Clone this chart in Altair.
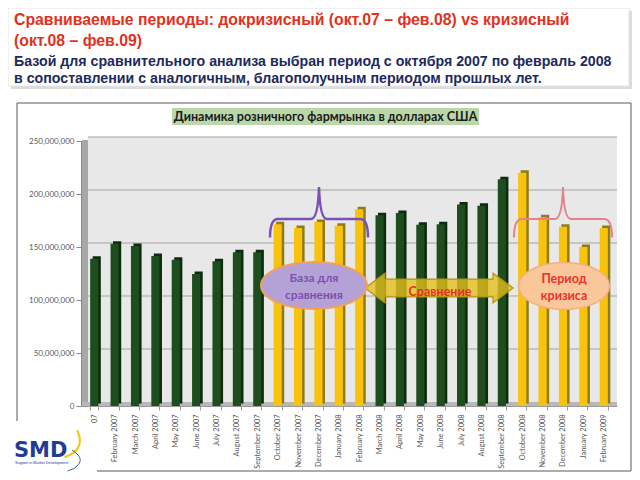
import altair as alt
import pandas as pd

# ---------------- data ----------------
months = ["January 2007", "February 2007", "March 2007", "April 2007", "May 2007",
          "June 2007", "July 2007", "August 2007", "September 2007", "October 2007",
          "November 2007", "December 2007", "January 2008", "February 2008", "March 2008",
          "April 2008", "May 2008", "June 2008", "July 2008", "August 2008",
          "September 2008", "October 2008", "November 2008", "December 2008",
          "January 2009", "February 2009"]
sales = [139e6, 153e6, 151e6, 141.5e6, 138e6, 124.5e6, 136.5e6, 145e6, 145e6,
         171.5e6, 168e6, 173.5e6, 170e6, 185.5e6,
         180e6, 182e6, 171e6, 171.5e6, 190e6, 189e6, 214e6,
         220e6, 178e6, 169e6, 150e6, 168e6]
periods = ["other", "other", "other", "other", "other", "other", "other", "other", "other",
           "base", "base", "base", "base", "base",
           "other", "other", "other", "other", "other", "other", "other",
           "crisis", "crisis", "crisis", "crisis", "crisis"]
y_ticks = [0, 50e6, 100e6, 150e6, 200e6, 250e6]
grid_vals = [50e6, 100e6, 150e6, 200e6, 250e6]

header_red = ["Сравниваемые периоды: докризисный (окт.07 – фев.08) vs кризисный",
              "(окт.08 – фев.09)"]
header_navy = ["Базой для сравнительного анализа выбран период с октября 2007 по февраль 2008",
               "в сопоставлении с аналогичным, благополучным периодом прошлых лет."]
chart_title = "Динамика розничного фармрынка в долларах США"

df = pd.DataFrame({"month": months, "sales": sales, "period": periods})
one = pd.DataFrame({"k": [0]})
grid_df = pd.DataFrame({"sales": grid_vals})

W, H = 536, 265
OX, OY = 81, 141          # page position of plot origin


def px(x):
    return x - OX


def py(y):
    return y - OY


GREEN, GREEN_SIDE = "#1e4d1e", "#0d2b0d"
YELLOW, YELLOW_SIDE = "#f9c20c", "#8f7c18"
LABEL = "#595959"
FONT = "Lato"

X = alt.X("month:N", sort=months,
          scale=alt.Scale(paddingInner=0.6, paddingOuter=0.45),
          axis=alt.Axis(title=None, labelAngle=-90, labelFontSize=7.4, labelFont=FONT,
                        labelColor=LABEL, labelPadding=4, tickBand="extent",
                        tickSize=4, tickColor="#9a9a9a", domainColor="#9a9a9a",
                        labelExpr="datum.label == 'January 2007' ? '07' : datum.label"))
Y = alt.Y("sales:Q", scale=alt.Scale(domain=[0, 250e6], nice=False),
          axis=alt.Axis(title=None, values=y_ticks, grid=False,
                        labelExpr="format(datum.value, ',.0f')",
                        labelFontSize=8, labelFont=FONT, labelColor=LABEL,
                        tickSize=5, tickColor="#8a8a8a", domainColor="#8a8a8a",
                        labelPadding=2))

layers = []


def rect(x1, y1, x2, y2, **kw):
    return alt.Chart(one).mark_rect(**kw).encode(
        x=alt.value(px(x1)), x2=alt.value(px(x2)), y=alt.value(py(y1)), y2=alt.value(py(y2)))


def text(x, y, t, **kw):
    return alt.Chart(one).mark_text(text=t, **kw).encode(x=alt.value(px(x)), y=alt.value(py(y)))


def shape(x, y, path, size, **kw):
    return alt.Chart(one).mark_point(shape=path, size=size, opacity=1, **kw).encode(
        x=alt.value(px(x)), y=alt.value(py(y)))


def rule(x1, y1, x2, y2, **kw):
    return alt.Chart(one).mark_rule(**kw).encode(
        x=alt.value(px(x1)), x2=alt.value(px(x2)), y=alt.value(py(y1)), y2=alt.value(py(y2)))


# chart walls
layers.append(rect(88, 137, 617, 402, color="#e8e8e8"))
layers.append(rect(82, 140, 88, 406, color="#a8a8a8"))
layers.append(rect(82, 402, 617, 406, color="#b8b8b8"))
layers.append(alt.Chart(grid_df).mark_rule(color="#a3a3a3", strokeWidth=1, yOffset=-4).encode(
    y=Y, x=alt.value(7), x2=alt.value(W)))

# bars (3D: darker side/top + front face)
is_other = "datum.period == 'other'"
layers.append(alt.Chart(df).mark_bar(xOffset=2.5, yOffset=-2.5).encode(
    x=X, y=Y, color=alt.condition(is_other, alt.value(GREEN_SIDE), alt.value(YELLOW_SIDE))))
layers.append(alt.Chart(df).mark_bar().encode(
    x=X, y=Y, color=alt.condition(is_other, alt.value(GREEN), alt.value(YELLOW))))

# braces
brace = ("M -0.98 0.5 Q -0.98 0.13 -0.82 0.13 L -0.16 0.13 Q -0.02 0.13 0 -0.51 "
         "Q 0.02 0.13 0.16 0.13 L 0.82 0.13 Q 0.98 0.13 0.98 0.5")
layers.append(shape(319, 212.5, brace, 10000, filled=False, stroke="#7d50b8", strokeWidth=2.5))
layers.append(shape(563, 212.5, brace, 10000, filled=False, stroke="#e6808a", strokeWidth=2))

# double arrow
arrow = ("M -1 0 L -0.73 -0.2 L -0.73 -0.12 L 0.73 -0.12 L 0.73 -0.2 L 1 0 "
         "L 0.73 0.2 L 0.73 0.12 L -0.73 0.12 L -0.73 0.2 Z")
layers.append(shape(439, 288, arrow, 148 * 148, filled=True, fill="#e3bf1c", fillOpacity=0.8,
                    stroke="#b39412", strokeWidth=1.2))
layers.append(text(440, 292, "Сравнение", font=FONT, fontSize=12.5, fontWeight="bold",
                   color="#e8302a", baseline="middle"))


def ellipse(k):
    c = 0.5523 * k
    return (f"M -1 0 C -1 {-c} -0.5523 {-k} 0 {-k} C 0.5523 {-k} 1 {-c} 1 0 "
            f"C 1 {c} 0.5523 {k} 0 {k} C -0.5523 {k} -1 {c} -1 0 Z")


layers.append(shape(314, 285.5, ellipse(0.443), 106 * 106, filled=True, fill="#b4a2d6",
                    stroke="#f2a15a", strokeWidth=2))
layers.append(text(314, 278, "База для", font=FONT, fontSize=12, fontWeight="bold",
                   color="#7f4fb0", baseline="middle"))
layers.append(text(314, 295, "сравнения", font=FONT, fontSize=12, fontWeight="bold",
                   color="#7f4fb0", baseline="middle"))
layers.append(shape(564, 286, ellipse(0.516), 91 * 91, filled=True, fill="#f9c79a",
                    stroke="#f3b07e", strokeWidth=1.5))
layers.append(text(564, 279, "Период", font=FONT, fontSize=12.5, fontWeight="bold",
                   color="#e8342a", baseline="middle"))
layers.append(text(564, 296, "кризиса", font=FONT, fontSize=12.5, fontWeight="bold",
                   color="#e8342a", baseline="middle"))

# chart title box
layers.append(rect(172, 108, 479, 125, color="#b9d7a9"))
layers.append(text(325.5, 116.5, chart_title, font=FONT, fontSize=12.5, fontWeight="bold",
                   color="#1a1a1a", baseline="middle"))

# outer chart border
BC = "#8f8f8f"
layers.append(rule(17, 103, 631, 103, color=BC, strokeWidth=1.5))
layers.append(rule(17, 103, 17, 421, color=BC, strokeWidth=1.5))
layers.append(rule(631, 103, 631, 471, color=BC, strokeWidth=1.5))
layers.append(rule(97, 471, 631, 471, color=BC, strokeWidth=1.5))

# header
layers.append(rect(11, 11, 632, 89, color="#dcdcdc"))
layers.append(rect(8, 8, 629, 86, color="#ffffff", stroke="#e4e4e4", strokeWidth=1))
layers.append(text(14, 20, header_red[0], font="Liberation Sans", fontSize=15.8, fontWeight="bold",
                   color="#e2311d", align="left", baseline="middle"))
layers.append(text(14, 41, header_red[1], font="Liberation Sans", fontSize=15.8, fontWeight="bold",
                   color="#e2311d", align="left", baseline="middle"))
layers.append(text(14, 62, header_navy[0], font="Liberation Sans", fontSize=14.2,
                   fontWeight="bold", color="#1d2a5e", align="left", baseline="middle"))
layers.append(text(14, 79, header_navy[1], font="Liberation Sans", fontSize=14.2,
                   fontWeight="bold", color="#1d2a5e", align="left", baseline="middle"))

# SMD logo
layers.append(shape(72, 446, "M -0.5 0.75 Q 0.95 0.25 0.35 -1.05", 900, filled=False,
                    stroke="#f2c81c", strokeWidth=2.2))
layers.append(shape(72, 447, "M 0 0.2 Q 0.8 0.7 0.45 1.15 Q 0.2 1.5 -0.3 1.6", 900,
                    filled=False, stroke="#3b62b0", strokeWidth=1))
layers.append(text(14, 457, "SMD", font="DejaVu Sans", fontSize=21, fontWeight="bold",
                   color="#1f3c96", align="left", baseline="alphabetic"))
layers.append(text(15, 462.5, "Support in Market Development", font="Liberation Sans",
                   fontSize=3.8, color="#1f3c96", align="left", baseline="middle"))

chart = alt.layer(*layers, data=df).properties(
    width=W, height=H,
    padding={"left": 73, "top": 133, "right": 15, "bottom": 66},
    autosize=alt.AutoSizeParams(type="none"),
    background="white",
).configure_view(stroke=None)

chart.save("out.html", embed_options={"renderer": "svg", "actions": False})
